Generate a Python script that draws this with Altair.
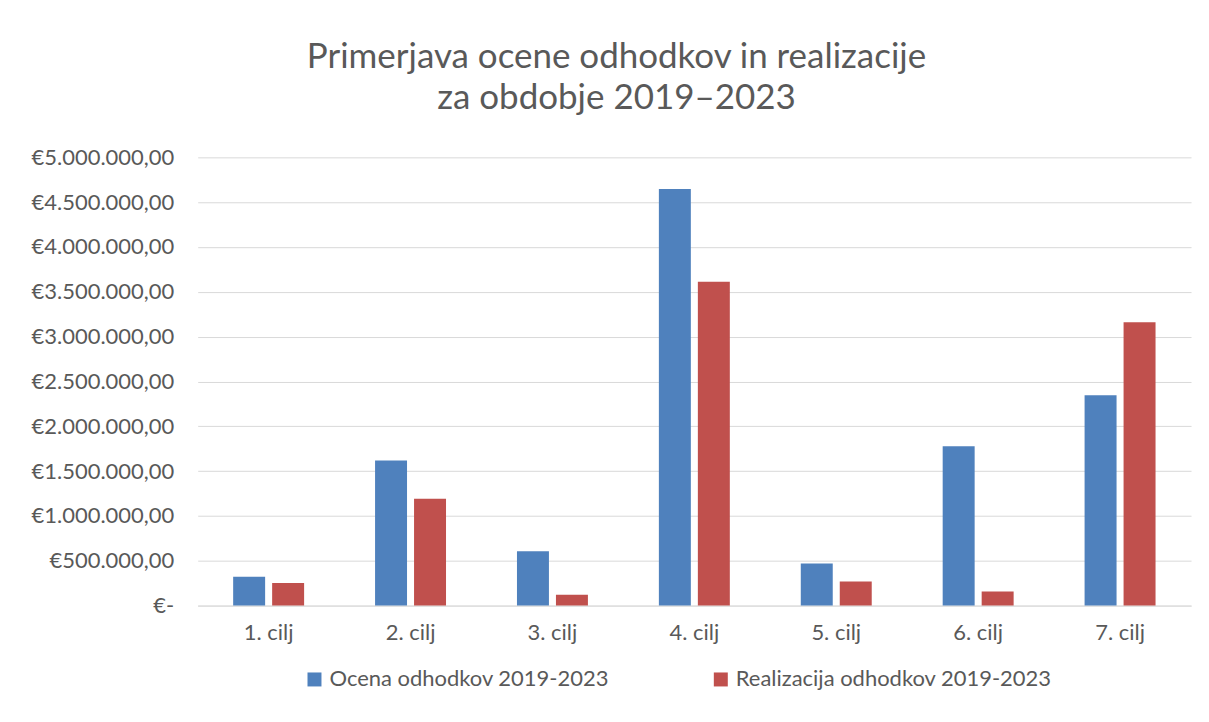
import altair as alt
import pandas as pd

categories = ["1. cilj", "2. cilj", "3. cilj", "4. cilj", "5. cilj", "6. cilj", "7. cilj"]
series_names = ["Ocena odhodkov 2019-2023", "Realizacija odhodkov 2019-2023"]
ocena = [322000, 1618000, 607000, 4648000, 469000, 1776000, 2347000]
realizacija = [251000, 1192000, 122000, 3611000, 269000, 158000, 3161000]
series_colors = ["#4F81BD", "#C0504D"]

y_ticks = [0, 500000, 1000000, 1500000, 2000000, 2500000, 3000000, 3500000, 4000000, 4500000, 5000000]
y_tick_labels = ["€-", "€500.000,00", "€1.000.000,00", "€1.500.000,00", "€2.000.000,00",
                 "€2.500.000,00", "€3.000.000,00", "€3.500.000,00", "€4.000.000,00",
                 "€4.500.000,00", "€5.000.000,00"]

rows = []
for c, a, b in zip(categories, ocena, realizacija):
    rows.append({"cilj": c, "serija": series_names[0], "vrednost": a})
    rows.append({"cilj": c, "serija": series_names[1], "vrednost": b})
df = pd.DataFrame(rows)

label_expr = "''"
for v, l in zip(y_ticks, y_tick_labels):
    label_expr = f"datum.value == {v} ? '{l}' : ({label_expr})"

FONT = "Lato"
TXT = "#595959"

chart = alt.Chart(df).mark_bar().encode(
    x=alt.X("cilj:N", sort=categories, title=None,
            scale=alt.Scale(paddingInner=0.5, paddingOuter=0.25),
            axis=alt.Axis(labelAngle=0, labelFontSize=22, labelColor=TXT, labelFont=FONT,
                          ticks=False, domain=True, domainColor="#D9D9D9", labelPadding=17)),
    xOffset=alt.XOffset("serija:N", sort=series_names,
                        scale=alt.Scale(paddingInner=0.18, paddingOuter=0)),
    y=alt.Y("vrednost:Q", title=None,
            scale=alt.Scale(domain=[0, 5000000], nice=False),
            axis=alt.Axis(values=y_ticks, labelExpr=label_expr, labelFontSize=22,
                          labelColor=TXT, labelFont=FONT, ticks=False, domain=False,
                          gridColor="#D9D9D9", labelPadding=24)),
    color=alt.Color("serija:N", sort=series_names,
                    scale=alt.Scale(domain=series_names, range=series_colors),
                    legend=alt.Legend(title=None, orient="none", legendX=106, legendY=512,
                                      direction="horizontal", symbolType="square",
                                      symbolSize=196, symbolStrokeWidth=0,
                                      labelFontSize=22, labelColor=TXT, labelFont=FONT,
                                      columnPadding=100, labelLimit=400)),
).properties(
    width=995,
    height=449,
    title=alt.TitleParams(
        text=["Primerjava ocene odhodkov in realizacije", "za obdobje 2019–2023"],
        font=FONT, fontSize=35, fontWeight="normal", color=TXT,
        anchor="middle", dx=-78, offset=30, lineHeight=41,
    ),
    autosize=alt.AutoSizeParams(type="none"),
    padding={"left": 190, "top": 149, "right": 10, "bottom": 100},
    background="white",
).configure_view(strokeWidth=0, stroke="transparent")

chart.save("out.html", embed_options={"renderer": "svg", "actions": False})
